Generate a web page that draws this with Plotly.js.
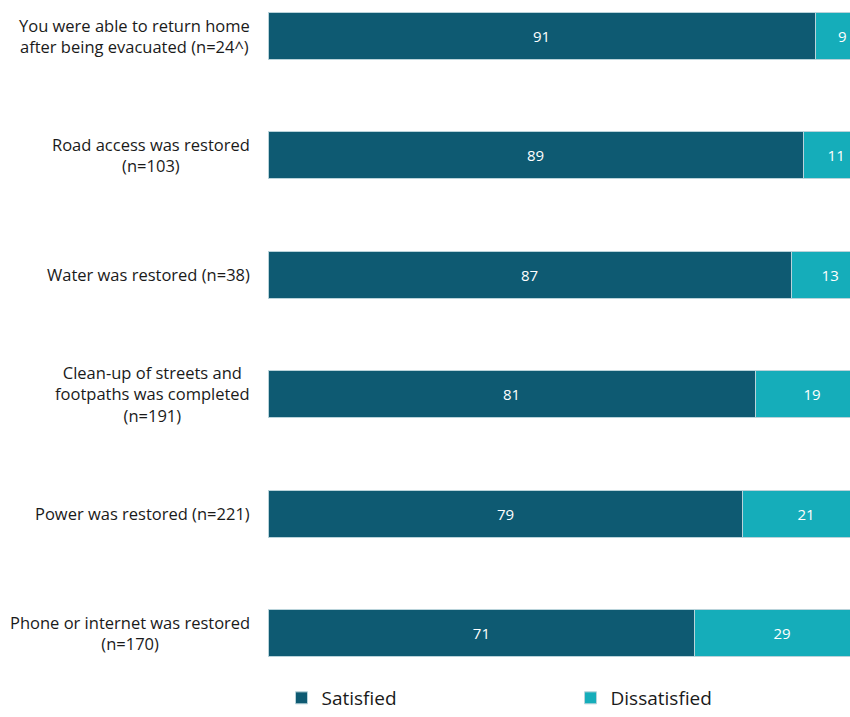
<!DOCTYPE html>
<html>
<head>
<meta charset="utf-8">
<script src="https://cdn.plot.ly/plotly-3.0.1.min.js"></script>
<style>html,body{margin:0;padding:0;background:#fff;}#chart{width:850px;height:717px;}</style>
</head>
<body>
<div id="chart"></div>
<script>
const categories = [
  "You were able to return home<br>after being evacuated (n=24^)",
  "Road access was restored<br>(n=103)",
  "Water was restored (n=38)",
  "Clean-up of streets and<br>footpaths was completed<br>(n=191)",
  "Power was restored (n=221)",
  "Phone or internet was restored<br>(n=170)"
];
const satisfied = [91, 89, 87, 81, 79, 71];
const dissatisfied = [9, 11, 13, 19, 21, 29];
const seriesNames = ["Satisfied", "Dissatisfied"];

const FONT = "Open Sans, Noto Sans, sans-serif";
const darkTeal = "#0e5a72";
const lightTeal = "#15adba";

const traces = [
  {
    type: "bar", orientation: "h", name: seriesNames[0], legend: "legend",
    y: categories, x: satisfied,
    text: satisfied.map(String), textposition: "inside", insidetextanchor: "middle",
    textfont: {color: "#ffffff", size: 15, family: FONT},
    marker: {color: darkTeal, line: {color: "#b9d3da", width: 1}},
    hoverinfo: "skip"
  },
  {
    type: "bar", orientation: "h", name: seriesNames[1], legend: "legend2",
    y: categories, x: dissatisfied,
    text: dissatisfied.map(String), textposition: "inside", insidetextanchor: "middle",
    textfont: {color: "#ffffff", size: 15, family: FONT},
    marker: {color: lightTeal, line: {color: "#b9d3da", width: 1}},
    hoverinfo: "skip"
  }
];

const annotations = categories.map(c => ({
  xref: "paper", yref: "y", x: 0, y: c,
  xanchor: "right", yanchor: "middle", xshift: -16,
  text: c, align: "center", showarrow: false,
  font: {family: FONT, size: 16.5, color: "#1a1a1a"}
}));

const legendBase = {
  orientation: "h", xanchor: "left", yref: "paper", y: 0, yanchor: "bottom",
  font: {family: FONT, size: 19, color: "#1a1a1a"},
  bgcolor: "rgba(0,0,0,0)"
};

const layout = {
  width: 850, height: 717,
  margin: {l: 268, r: 0, t: 0, b: 0, pad: 0},
  paper_bgcolor: "#ffffff", plot_bgcolor: "#ffffff",
  barmode: "stack", bargap: 0.606,
  showlegend: true,
  legend: Object.assign({}, legendBase, {x: 0.0232}),
  legend2: Object.assign({}, legendBase, {x: 0.5198}),
  xaxis: {range: [0, 96.8], visible: false, fixedrange: true},
  yaxis: {
    type: "category", range: [5.7035, -0.3015],
    showticklabels: false, showgrid: false, zeroline: false, showline: false, ticks: ""
  },
  annotations: annotations
};

Plotly.newPlot("chart", traces, layout, {displayModeBar: false, staticPlot: true});
</script>
</body>
</html>
